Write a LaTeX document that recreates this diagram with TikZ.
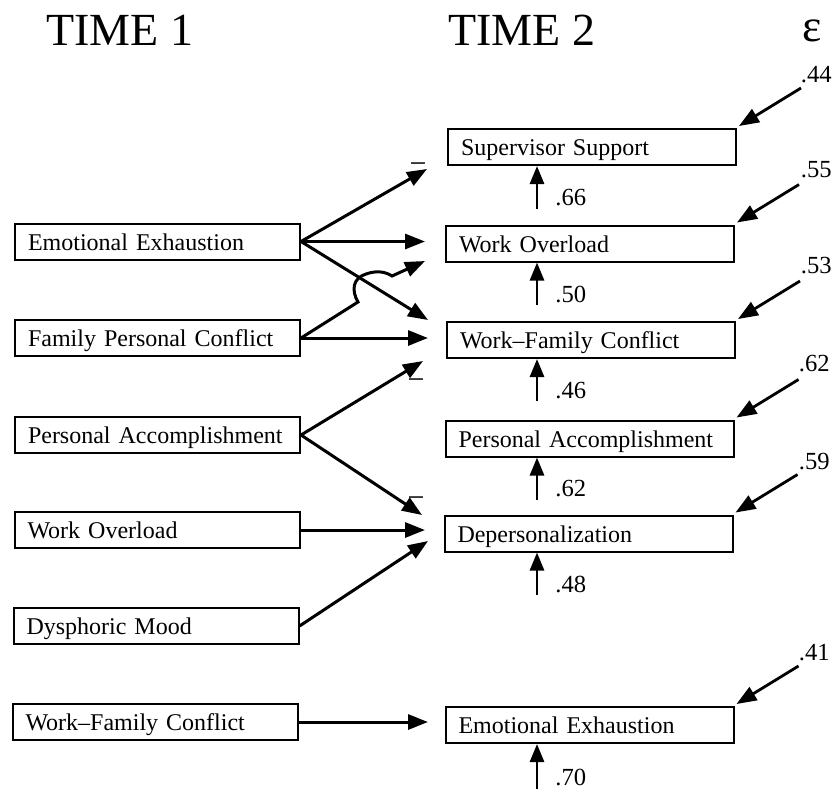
\documentclass[tikz,border=0pt]{standalone}
\usepackage{fontspec}
\setmainfont{Liberation Serif}
\usetikzlibrary{arrows.meta}
\begin{document}
\begin{tikzpicture}[x=0.5pt,y=-0.5pt,
  box/.style={draw,line width=1pt,minimum height=18pt,inner ysep=0pt,inner xsep=6.5pt,align=left,text height=11.5pt,text depth=3pt,font=\fontsize{12}{14}\selectfont},
  lbox/.style={box,text width=129.5pt},
  rbox/.style={box,text width=131pt},
  conn/.style={line width=1.5pt,-{Triangle[length=10pt,width=7.5pt]}},
  errarrow/.style={line width=1.4pt,-{Triangle[length=10pt,width=7.5pt]}},
  varrow/.style={line width=1.4pt,-{Triangle[length=9pt,width=7pt]}},
  num/.style={inner sep=0pt,font=\fontsize{12.3}{14}\selectfont},
  minus/.style={inner sep=0pt,anchor=base,font=\fontsize{15}{16}\selectfont},
  head/.style={inner sep=0pt,font=\fontsize{23}{26}\selectfont}
]
\useasboundingbox (0,0) rectangle (833,789);

% headings
\node[head] (time1) at (120,30) {TIME 1};
\node[head] (time2) at (522,30) {TIME 2};
\node[head] (eps) at (812,31) {ε};

% Time 1 boxes
\node[lbox] (lEE) at (157.5,241.5) {Emotional Exhaustion};
\node[lbox] (lFPC) at (157.5,338) {Family Personal Conflict};
\node[lbox] (lPA) at (157.5,435) {Personal Accomplishment};
\node[lbox] (lWO) at (157,530) {Work Overload};
\node[lbox] (lDM) at (156,626) {Dysphoric Mood};
\node[lbox] (lWFC) at (155,722) {Work–Family Conflict};

% Time 2 boxes
\node[rbox] (rSS) at (592,147) {Supervisor Support};
\node[rbox] (rWO) at (590,243.5) {Work Overload};
\node[rbox] (rWFC) at (591,340) {Work–Family Conflict};
\node[rbox] (rPA) at (589.5,438.5) {Personal Accomplishment};
\node[rbox] (rDP) at (588.5,533.5) {Depersonalization};
\node[rbox] (rEE) at (589.5,725) {Emotional Exhaustion};

% arrow tips (free ends)
\coordinate (tSS) at (427,169);
\coordinate (tWOa) at (425,241.5);
\coordinate (tWFCa) at (428,320);
\coordinate (tWOb) at (425,261);
\coordinate (tWFCb) at (428,338);
\coordinate (tWFCc) at (423,361);
\coordinate (tDPa) at (422,515);
\coordinate (tDPb) at (425,530);
\coordinate (tDPc) at (428,541);
\coordinate (tEE) at (428,722);
\coordinate (hop1) at (358,302);
\coordinate (hop2) at (366,274);
\coordinate (hop3) at (392,276);

% Time 1 -> Time 2 paths
\draw[conn] (lEE.east) -- (tSS);
\draw[conn] (lEE.east) -- (tWOa);
\draw[conn] (lEE.east) -- (tWFCa);
\draw[conn] (lFPC.east) -- (hop1) .. controls (351,290) and (353,278) .. (hop2) .. controls (377,270) and (386,272) .. (hop3) -- (tWOb);
\draw[conn] (lFPC.east) -- (tWFCb);
\draw[conn] (lPA.east) -- (tWFCc);
\draw[conn] (lPA.east) -- (tDPa);
\draw[conn] (lWO.east) -- (tDPb);
\draw[conn] (lDM.east) -- (tDPc);
\draw[conn] (lWFC.east) -- (tEE);

% minus signs
\node[minus] (m1) at (418,173) {−};
\node[minus] (m2) at (416,389) {−};
\node[minus] (m3) at (416,507) {−};

% stability arrows
\coordinate (vSS) at (537,209);
\coordinate (vWO) at (537,305);
\coordinate (vWFC) at (537,401);
\coordinate (vPA) at (537,500);
\coordinate (vDP) at (537,595);
\coordinate (vEE) at (537,789);
\draw[varrow] (vSS) -- (vSS |- rSS.south);
\draw[varrow] (vWO) -- (vWO |- rWO.south);
\draw[varrow] (vWFC) -- (vWFC |- rWFC.south);
\draw[varrow] (vPA) -- (vPA |- rPA.south);
\draw[varrow] (vDP) -- (vDP |- rDP.south);
\draw[varrow] (vEE) -- (vEE |- rEE.south);
\node[num,anchor=west] (sSS) at (555,198) {.66};
\node[num,anchor=west] (sWO) at (555,294) {.50};
\node[num,anchor=west] (sWFC) at (555,391) {.46};
\node[num,anchor=west] (sPA) at (555,489) {.62};
\node[num,anchor=west] (sDP) at (555,584) {.48};
\node[num,anchor=west] (sEE) at (555,777) {.70};

% error terms
\node[num,anchor=east] (eSS) at (832,75) {.44};
\node[num,anchor=east] (eWO) at (832,170) {.55};
\node[num,anchor=east] (eWFC) at (832,266) {.53};
\node[num,anchor=east] (ePA) at (830,364) {.62};
\node[num,anchor=east] (eDP) at (830,462) {.59};
\node[num,anchor=east] (eEE) at (830,653) {.41};
\foreach \b in {SS,WO,WFC,PA,DP,EE}{
  \draw[errarrow] ([shift={(64,-40)}]r\b.north east) -- ([shift={(2,-2)}]r\b.north east);
}
\end{tikzpicture}
\end{document}
